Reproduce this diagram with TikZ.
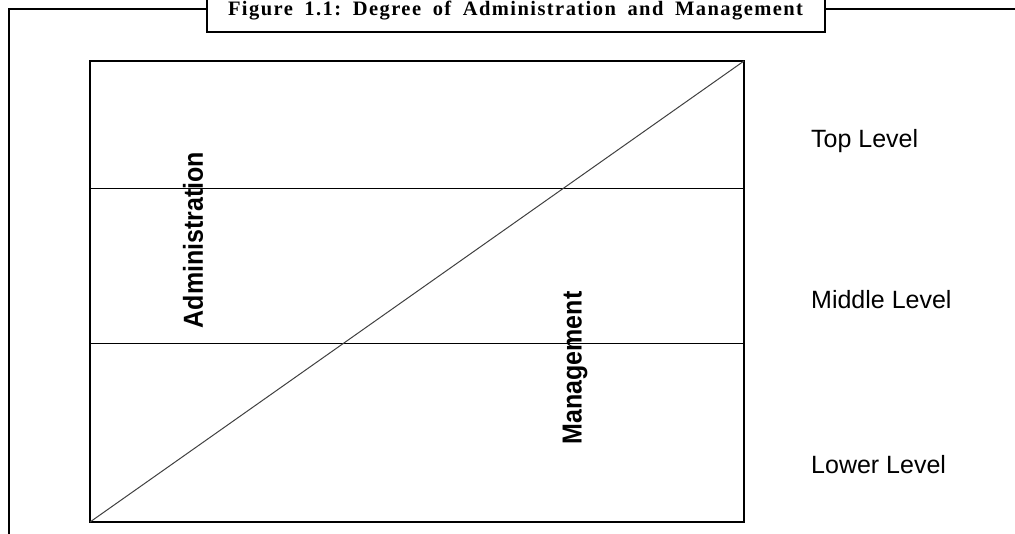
\documentclass[tikz,border=0pt]{standalone}
\usepackage{fontspec}
\newfontfamily\arialfont{Liberation Sans}
\newfontfamily\titlefont[LetterSpace=7]{Liberation Serif}
\begin{document}
\begin{tikzpicture}[x=1pt,y=-1pt,
  frame/.style={line width=2pt,black},
  boxline/.style={line width=1.3pt,black},
  gridline/.style={line width=1pt,black},
  diag/.style={line width=1pt,black!75},
  level/.style={font=\arialfont\fontsize{25}{30}\selectfont,anchor=base west,inner sep=0pt},
  vlabel/.style={font=\arialfont\bfseries\fontsize{25}{30}\selectfont,rotate=90,inner sep=0pt,yscale=1.1},
  figtitle/.style={inner sep=0pt,anchor=base}]
\useasboundingbox (0,0) rectangle (1015,533);
% outer frame
\coordinate (fbl) at (9,540);
\coordinate (ftl) at (9,9);
\coordinate (ftr) at (1020,9);
\draw[frame] (fbl) -- (ftl) -- (207,9);
\draw[frame] (825,9) -- (ftr);
\draw[frame,fill=white] (207,-6) rectangle (825,32);
\node[figtitle] (title) at (515.5,15) {\titlefont\fontsize{20.5}{24}\selectfont\bfseries\hbox to 575pt{Figure\hfill 1.1:\hfill Degree\hfill of\hfill Administration\hfill and\hfill Management}};
% inner box
\coordinate (bl) at (90,522);
\coordinate (tr) at (744,61);
\draw[boxline] (bl) rectangle (tr);
\coordinate (h1l) at (90,188);
\coordinate (h1r) at (744,188);
\coordinate (h2l) at (90,343);
\coordinate (h2r) at (744,343);
\draw[gridline] (h1l) -- (h1r);
\draw[gridline] (h2l) -- (h2r);
\draw[diag] (bl) -- (tr);
% labels
\node[level] (top) at (811,147) {Top Level};
\node[level] (mid) at (811,308) {Middle Level};
\node[level] (low) at (811,473) {Lower Level};
\node[vlabel] (adm) at (193,240) {Administration};
\node[vlabel] (man) at (575,368) {Management};
\end{tikzpicture}
\end{document}
